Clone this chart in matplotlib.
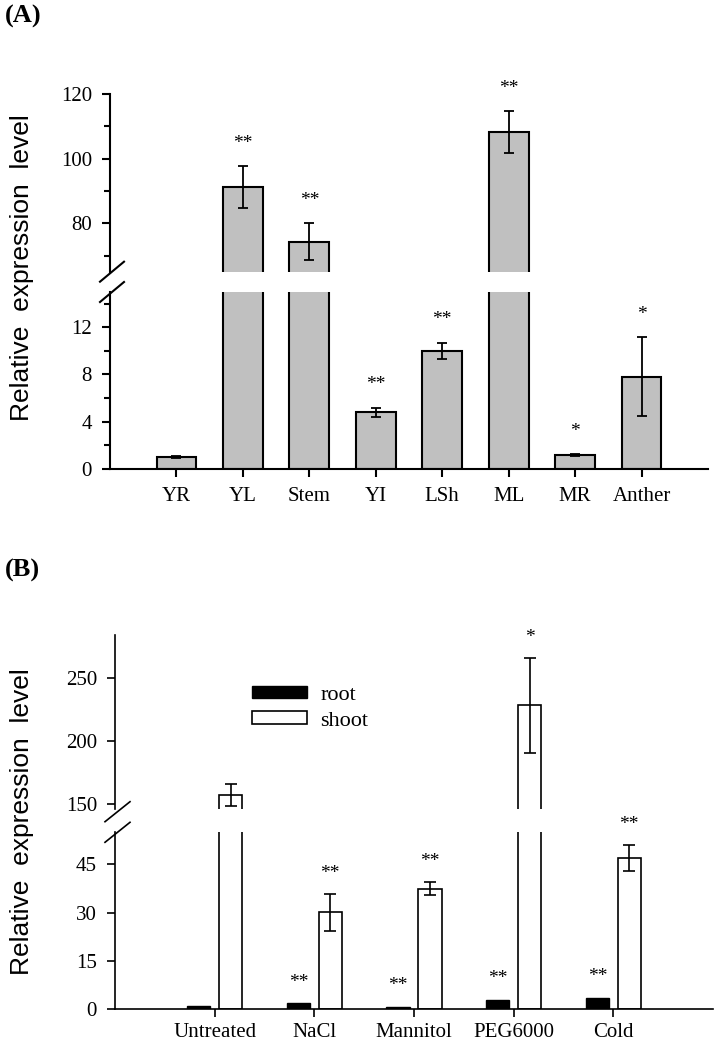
import matplotlib
matplotlib.use('Agg')
import matplotlib.pyplot as plt
from matplotlib.lines import Line2D
import numpy as np

W, H, DPI = 714, 1044, 100

# ---------------- data ----------------
tissues = ['YR', 'YL', 'Stem', 'YI', 'LSh', 'ML', 'MR', 'Anther']
tissue_mean = [1.0, 91.3, 74.3, 4.8, 10.0, 108.2, 1.15, 7.8]
tissue_err = [0.08, 6.5, 5.8, 0.4, 0.7, 6.6, 0.08, 3.35]
tissue_sig = ['', '**', '**', '**', '**', '**', '*', '*']

treatments = ['Untreated', 'NaCl', 'Mannitol', 'PEG6000', 'Cold']
root_mean = [1.0, 1.8, 0.6, 2.8, 3.5]
shoot_mean = [157.3, 30.1, 37.4, 228.2, 47.0]
shoot_err = [8.7, 5.8, 2.0, 37.4, 4.0]
root_sig = ['', '**', '**', '**', '**']
shoot_sig = ['', '**', '**', '*', '**']

A_upper_lim = (65, 120)
A_lower_lim = (0, 15)
B_upper_lim = (146, 284)
B_lower_lim = (0, 55)

SERIF = 'Liberation Serif'
SANS = 'Liberation Sans'
STAR_SIZE = 14

fig = plt.figure(figsize=(W / DPI, H / DPI), dpi=DPI)


def ax_px(left, top, right, bottom):
    return fig.add_axes([left / W, 1 - bottom / H, (right - left) / W, (bottom - top) / H])


def style(ax, lw):
    for s in ['top', 'right']:
        ax.spines[s].set_visible(False)
    for s in ['left', 'bottom']:
        ax.spines[s].set_linewidth(lw)
    ax.tick_params(axis='both', which='major', direction='out', length=6, width=lw,
                   labelsize=15)
    ax.tick_params(axis='y', which='major', pad=7)
    ax.tick_params(axis='y', which='minor', direction='out', length=4, width=lw)
    for lab in ax.get_yticklabels() + ax.get_xticklabels():
        lab.set_family(SERIF)


def upper_style(ax):
    ax.spines['bottom'].set_visible(False)
    ax.tick_params(axis='x', which='both', bottom=False, labelbottom=False)


def slash(x, y, dx, dy, lw):
    fig.add_artist(Line2D([(x - dx) / W, (x + dx) / W], [1 - (y + dy) / H, 1 - (y - dy) / H],
                          transform=fig.transFigure, color='black', lw=lw, clip_on=False))


def star(ax, text, x, y, off_pt):
    ax.annotate(text, xy=(x, y), xytext=(0, off_pt), textcoords='offset points',
                ha='center', va='baseline', fontsize=STAR_SIZE, family=SERIF,
                annotation_clip=False)


# ---------------- panel A ----------------
aL, aR = 110, 708
axAu = ax_px(aL, 94, aR, 271.7)
axAl = ax_px(aL, 291.7, aR, 469)
xa = np.arange(len(tissues))
for ax, lim in [(axAu, A_upper_lim), (axAl, A_lower_lim)]:
    ax.bar(xa, tissue_mean, width=0.6, color='#c0c0c0', edgecolor='black', linewidth=1.5, zorder=2)
    ax.errorbar(xa, tissue_mean, yerr=tissue_err, fmt='none', ecolor='black',
                elinewidth=1.3, capsize=3.5, capthick=1.3, zorder=3)
    ax.set_ylim(*lim)
    ax.set_xlim(-1, len(tissues))
axAu.set_yticks([80, 100, 120])
axAu.set_yticks([70, 90, 110], minor=True)
axAl.set_yticks([0, 4, 8, 12])
axAl.set_yticks([2, 6, 10, 14], minor=True)
axAl.set_xticks(xa)
axAl.set_xticklabels(tissues)
for ax in (axAu, axAl):
    style(ax, 1.5)
upper_style(axAu)
axAl.tick_params(axis='x', pad=7)

for i, (m, e, s) in enumerate(zip(tissue_mean, tissue_err, tissue_sig)):
    if not s:
        continue
    ax = axAu if m > A_lower_lim[1] else axAl
    star(ax, s, i, m + e, 13)

slash(aL + 2, 271.7, 12, 10, 1.5)
slash(aL + 2, 292, 12, 10, 1.5)

fig.text(22 / W, 1 - 268 / H, 'Relative  expression  level', rotation=90, ha='center', va='center',
         family=SANS, fontsize=19)
fig.text(5 / W, 1 - 16 / H, '(A)', ha='left', va='center', family=SERIF, fontsize=19, fontweight='bold')

# ---------------- panel B ----------------
bL, bR = 115, 713
axBu = ax_px(bL, 635, bR, 809.3)
axBl = ax_px(bL, 832.3, bR, 1009)
xb = np.arange(len(treatments))
off, bw = 0.16, 0.235
for ax, lim in [(axBu, B_upper_lim), (axBl, B_lower_lim)]:
    ax.bar(xb - off, root_mean, width=bw, color='black', edgecolor='black', linewidth=1.0,
           label='root', zorder=2)
    ax.bar(xb + off, shoot_mean, width=bw, color='white', edgecolor='black', linewidth=1.2,
           label='shoot', zorder=2)
    ax.errorbar(xb + off, shoot_mean, yerr=shoot_err, fmt='none', ecolor='black',
                elinewidth=1.2, capsize=4.5, capthick=1.2, zorder=3)
    ax.set_ylim(*lim)
    ax.set_xlim(-1, len(treatments))
axBu.set_yticks([150, 200, 250])
axBl.set_yticks([0, 15, 30, 45])
axBl.set_xticks(xb)
axBl.set_xticklabels(treatments)
for ax in (axBu, axBl):
    style(ax, 1.2)
upper_style(axBu)
axBl.tick_params(axis='x', pad=4)

for i in range(len(treatments)):
    if root_sig[i]:
        star(axBl, root_sig[i], i - off, root_mean[i], 12)
    if shoot_sig[i]:
        top = shoot_mean[i] + shoot_err[i]
        ax = axBu if shoot_mean[i] > B_lower_lim[1] else axBl
        star(ax, shoot_sig[i], i + off, top, 11.5)

slash(bL + 2.5, 811.7, 12.5, 10, 1.2)
slash(bL + 2.5, 832.3, 12.5, 10, 1.2)

leg = axBu.legend(loc='upper left', bbox_to_anchor=(251.7 / W, 1 - 685.5 / H),
                  bbox_transform=fig.transFigure, frameon=False, borderpad=0, borderaxespad=0,
                  handlelength=2.5, handleheight=0.5, handletextpad=0.6, labelspacing=0.3,
                  prop={'family': SERIF, 'size': 16})

fig.text(22 / W, 1 - 822 / H, 'Relative  expression  level', rotation=90, ha='center', va='center',
         family=SANS, fontsize=19)
fig.text(5 / W, 1 - 570 / H, '(B)', ha='left', va='center', family=SERIF, fontsize=19, fontweight='bold')

fig.savefig('out.png', dpi=DPI)
